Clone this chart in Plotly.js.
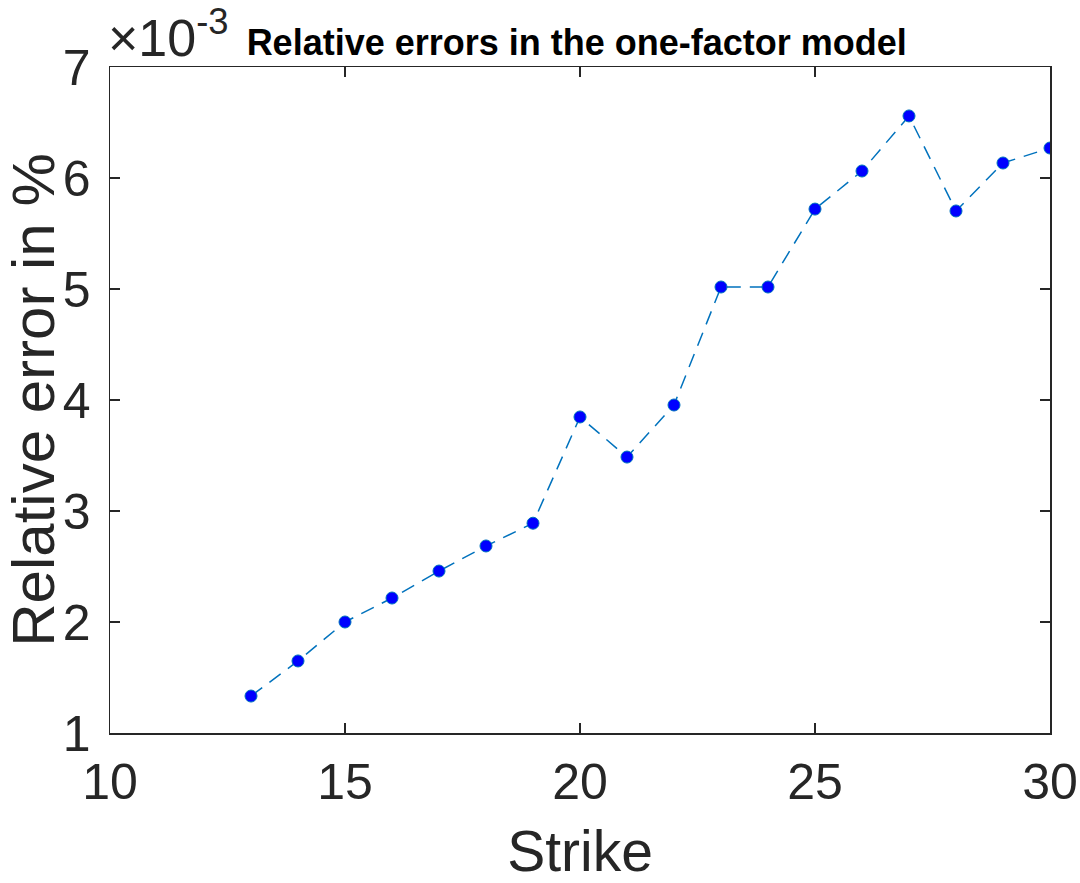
<!DOCTYPE html>
<html lang="en">
<head>
    <meta charset="UTF-8">
    <title>Relative errors in the one-factor model</title>
    <script src="https://cdn.plot.ly/plotly-3.0.1.min.js"></script>
    <style>
        body { margin: 0; padding: 0; background: white; }
        #plot { width: 1080px; height: 883px; }
    </style>
</head>
<body>
    <div id="plot"></div>
    <script>
        // Strike values and relative errors (in units of 1e-3 %)
        const strikes = [13, 14, 15, 16, 17, 18, 19, 20, 21, 22, 23, 24, 25, 26, 27, 28, 29, 30];
        const relErrors = [1.333, 1.649, 2.0, 2.216, 2.459, 2.685, 2.89, 3.847, 3.486, 3.955,
                           5.018, 5.018, 5.72, 6.063, 6.559, 5.703, 6.135, 6.27];
        const xTicks = [10, 15, 20, 25, 30];
        const yTicks = [1, 2, 3, 4, 5, 6, 7];

        const axisColor = '#262626';
        const font = 'Helvetica, "Liberation Sans", Arial, sans-serif';

        const trace = {
            x: strikes,
            y: relErrors,
            type: 'scatter',
            mode: 'lines+markers',
            line: { color: '#0072BD', width: 1.5, dash: '14px,9px' },
            marker: { color: '#0000FF', size: 12, line: { color: '#0072BD', width: 1 } },
            showlegend: false
        };

        const layout = {
            width: 1080,
            height: 883,
            margin: { l: 110, r: 30, t: 67, b: 150 },
            paper_bgcolor: 'white',
            plot_bgcolor: 'white',
            title: {
                text: '<b>Relative errors in the one-factor model</b>',
                font: { family: font, size: 36, color: '#000' },
                x: 0.534, xanchor: 'center',
                y: 0.952, yanchor: 'middle'
            },
            xaxis: {
                range: [10, 30],
                tickvals: xTicks,
                ticks: 'inside',
                ticklen: 10,
                tickwidth: 1.5,
                tickcolor: axisColor,
                showline: true,
                linecolor: axisColor,
                linewidth: 1.5,
                mirror: 'ticks',
                showgrid: false,
                zeroline: false,
                ticklabelstandoff: 4,
                tickfont: { family: font, size: 50, color: axisColor },
                title: { text: 'Strike', font: { family: font, size: 57, color: axisColor }, standoff: 24 }
            },
            yaxis: {
                range: [1, 7],
                tickvals: yTicks,
                ticks: 'inside',
                ticklen: 10,
                tickwidth: 1.5,
                tickcolor: axisColor,
                showline: true,
                linecolor: axisColor,
                linewidth: 1.5,
                mirror: 'ticks',
                showgrid: false,
                zeroline: false,
                ticklabelstandoff: 8,
                tickfont: { family: font, size: 50, color: axisColor },
                title: { text: 'Relative error in %', font: { family: font, size: 60, color: axisColor }, standoff: 4 }
            },
            annotations: [{
                text: '×10<sup>-3</sup>',
                xref: 'paper', yref: 'paper',
                x: 0, y: 1,
                xanchor: 'left', yanchor: 'bottom',
                showarrow: false,
                font: { family: font, size: 52, color: axisColor },
                xshift: -4,
                yshift: -2
            }]
        };

        Plotly.newPlot('plot', [trace], layout, { displayModeBar: false, staticPlot: true });
    </script>
</body>
</html>
